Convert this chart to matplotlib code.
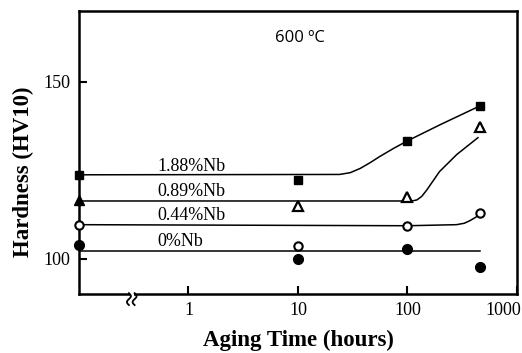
import numpy as np
import matplotlib
matplotlib.use("Agg")
import matplotlib.pyplot as plt
from matplotlib.transforms import ScaledTranslation
from matplotlib.patches import Rectangle

plt.rcParams['font.family'] = ['Liberation Serif', 'DejaVu Serif']
plt.rcParams['mathtext.fontset'] = 'stix'

# Measured points: first time value is the unaged state drawn at the axis origin
times = [0.1, 10, 100, 460]
h_188 = [123.7, 122.3, 133.2, 143.2]
h_089 = [116.5, 115.0, 117.4, 137.2]
h_044 = [109.6, 103.6, 109.1, 112.9]
h_000 = [103.8, 100.0, 102.6, 97.6]

# Guide curves
c188_t = [0.1, 24, 30, 37, 46, 56, 75, 100, 200, 460]
c188_h = [123.7, 123.8, 124.3, 125.5, 127.2, 128.9, 131.2, 133.3, 137.9, 143.2]
c089_t = [0.1, 110, 122, 135, 150, 196, 281, 440]
c089_h = [116.3, 116.3, 116.6, 117.6, 119.4, 124.6, 129.4, 134.2]
c044_t = [0.1, 100, 280, 330, 370, 420, 455]
c044_h = [109.6, 109.3, 109.6, 110.0, 110.7, 111.7, 112.6]
c000_t = [0.1, 460]
c000_h = [102.1, 102.1]

labels = ['1.88%Nb', '0.89%Nb', '0.44%Nb', '0%Nb']
label_x = 0.52
label_y = [126.0, 118.9, 112.1, 104.9]

xticks = [1, 10, 100, 1000]
xticklabels = ['1', '10', '100', '1000']
yticks = [100, 150]

fig = plt.figure(figsize=(5.22, 3.53), dpi=100)
ax = fig.add_axes([0.1513, 0.1671, 0.8391, 0.8017])
ax.set_xscale('log')
ax.set_xlim(0.1, 1000)
ax.set_ylim(90, 170)

lw = 1.1
ax.plot(c188_t, c188_h, color='black', lw=lw)
ax.plot(c089_t, c089_h, color='black', lw=lw)
ax.plot(c044_t, c044_h, color='black', lw=lw)
ax.plot(c000_t, c000_h, color='black', lw=lw)

ax.plot(times, h_188, ls='none', marker='s', ms=5.5, mfc='black', mec='black', clip_on=False, zorder=5)
ax.plot(times[1:], h_089[1:], ls='none', marker='^', ms=6.5, mfc='white', mec='black', mew=1.6, clip_on=False, zorder=5)
ax.plot(times[:1], h_089[:1], ls='none', marker='^', ms=6.5, mfc='black', mec='black', clip_on=False, zorder=5)
ax.plot(times, h_044, ls='none', marker='o', ms=6.0, mfc='white', mec='black', mew=1.5, clip_on=False, zorder=5)
ax.plot(times, h_000, ls='none', marker='o', ms=7.0, mfc='black', mec='black', clip_on=False, zorder=5)

for lab, yv in zip(labels, label_y):
    ax.text(label_x, yv, lab, fontsize=13, ha='left', va='center')

ax.text(0.505, 0.905, '600 ºC', transform=ax.transAxes, fontsize=12,
        family=['Open Sans', 'DejaVu Sans'], ha='center', va='center')

ax.set_xticks(xticks)
ax.set_xticklabels(xticklabels)
ax.xaxis.set_minor_locator(matplotlib.ticker.NullLocator())
ax.set_yticks(yticks)
ax.tick_params(direction='in', length=6, width=1.5, labelsize=13, pad=6)
last = ax.get_xticklabels()[-1]
last.set_horizontalalignment('right')
last.set_transform(last.get_transform() + ScaledTranslation(4 / 100, 0, fig.dpi_scale_trans))

for s in ax.spines.values():
    s.set_linewidth(1.8)

ax.set_xlabel('Aging Time (hours)', fontsize=16.5, fontweight='bold')
ax.set_ylabel('Hardness (HV10)', fontsize=16.5, fontweight='bold')
ax.xaxis.set_label_coords(0.5, -0.125)
ax.yaxis.set_label_coords(-0.103, 0.433)

# axis break mark
ax.add_patch(Rectangle((0.116, -0.01), 0.01, 0.02, transform=ax.transAxes,
                       facecolor='white', edgecolor='none', clip_on=False, zorder=6))
tt = np.linspace(-1, 1, 40)
for xc in [0.114, 0.127]:
    xs = xc + 0.0045 * np.sin(tt * np.pi)
    ys = -0.018 + 0.021 * tt
    ax.plot(xs, ys, color='black', lw=1.3, transform=ax.transAxes, clip_on=False, zorder=7)

fig.savefig('out.png', dpi=100)
